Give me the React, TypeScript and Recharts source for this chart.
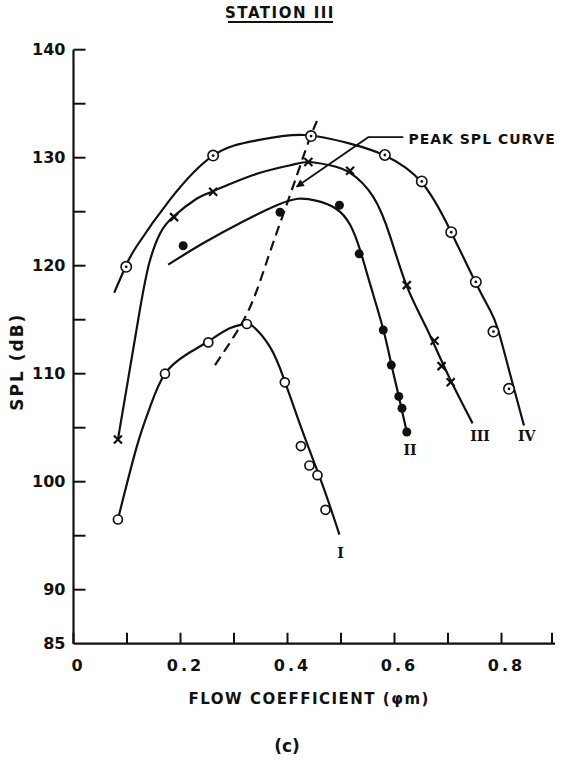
import React from 'react'
import { ComposedChart, Line, Scatter, XAxis, YAxis, ReferenceDot, Label } from 'recharts'

// axis ticks
const xTicks = [0, 0.1, 0.2, 0.3, 0.4, 0.5, 0.6, 0.7, 0.8, 0.9]
const xLabelled = [0, 0.2, 0.4, 0.6, 0.8]
const yTicks = [85, 90, 95, 100, 105, 110, 115, 120, 125, 130, 135, 140]
const yLabelled = [85, 90, 100, 110, 120, 130, 140]

// faired curves
const curveI = [
  { phi: 0.083, spl: 96.5 }, { phi: 0.118, spl: 103.2 }, { phi: 0.143, spl: 106.9 },
  { phi: 0.171, spl: 110.0 }, { phi: 0.212, spl: 111.8 }, { phi: 0.252, spl: 113.0 },
  { phi: 0.292, spl: 114.2 }, { phi: 0.32, spl: 114.6 }, { phi: 0.335, spl: 114.4 },
  { phi: 0.367, spl: 112.5 }, { phi: 0.395, spl: 109.3 }, { phi: 0.43, spl: 104.4 },
  { phi: 0.467, spl: 99.5 }, { phi: 0.497, spl: 95.1 },
]
const curveII = [
  { phi: 0.177, spl: 120.1 }, { phi: 0.243, spl: 122.1 }, { phi: 0.317, spl: 124.1 },
  { phi: 0.38, spl: 125.6 }, { phi: 0.42, spl: 126.2 }, { phi: 0.455, spl: 126.0 },
  { phi: 0.49, spl: 125.3 }, { phi: 0.517, spl: 123.8 }, { phi: 0.536, spl: 121.4 },
  { phi: 0.555, spl: 118.2 }, { phi: 0.579, spl: 114.1 }, { phi: 0.594, spl: 110.9 },
  { phi: 0.608, spl: 107.9 }, { phi: 0.623, spl: 104.6 },
]
const curveIII = [
  { phi: 0.083, spl: 103.9 }, { phi: 0.124, spl: 115.9 }, { phi: 0.143, spl: 120.5 },
  { phi: 0.162, spl: 123.0 }, { phi: 0.188, spl: 124.6 }, { phi: 0.23, spl: 126.2 },
  { phi: 0.261, spl: 126.9 }, { phi: 0.336, spl: 128.4 }, { phi: 0.405, spl: 129.3 },
  { phi: 0.44, spl: 129.6 }, { phi: 0.479, spl: 129.3 }, { phi: 0.517, spl: 128.6 },
  { phi: 0.56, spl: 126.4 }, { phi: 0.592, spl: 122.7 }, { phi: 0.623, spl: 118.1 },
  { phi: 0.66, spl: 114.2 }, { phi: 0.7, spl: 109.9 }, { phi: 0.746, spl: 105.4 },
]
const curveIV = [
  { phi: 0.076, spl: 117.5 }, { phi: 0.098, spl: 120.0 }, { phi: 0.118, spl: 121.8 },
  { phi: 0.18, spl: 126.1 }, { phi: 0.261, spl: 130.2 }, { phi: 0.342, spl: 131.6 },
  { phi: 0.43, spl: 132.1 }, { phi: 0.517, spl: 131.3 }, { phi: 0.582, spl: 130.2 },
  { phi: 0.651, spl: 127.7 }, { phi: 0.706, spl: 123.1 }, { phi: 0.752, spl: 118.4 },
  { phi: 0.7785, spl: 115.9 }, { phi: 0.794, spl: 114.0 }, { phi: 0.818, spl: 109.6 },
  { phi: 0.842, spl: 105.2 },
]
const peakCurve = [
  { phi: 0.2645, spl: 110.8 }, { phi: 0.3037, spl: 113.75 }, { phi: 0.3355, spl: 116.8 },
  { phi: 0.3654, spl: 121.0 }, { phi: 0.3916, spl: 124.7 }, { phi: 0.4178, spl: 128.4 },
  { phi: 0.4402, spl: 131.6 }, { phi: 0.4551, spl: 133.4 },
]
const leader = [
  { phi: 0.6165, spl: 131.9 }, { phi: 0.551, spl: 131.9 }, { phi: 0.417, spl: 127.3 },
]

// measured points
const pointsI = [
  { phi: 0.083, spl: 96.5 }, { phi: 0.171, spl: 110.0 }, { phi: 0.252, spl: 112.9 },
  { phi: 0.324, spl: 114.6 }, { phi: 0.395, spl: 109.2 }, { phi: 0.425, spl: 103.3 },
  { phi: 0.441, spl: 101.5 }, { phi: 0.456, spl: 100.6 }, { phi: 0.471, spl: 97.4 },
]
const pointsII = [
  { phi: 0.205, spl: 121.85 }, { phi: 0.386, spl: 124.95 }, { phi: 0.497, spl: 125.6 },
  { phi: 0.534, spl: 121.1 }, { phi: 0.579, spl: 114.05 }, { phi: 0.594, spl: 110.8 },
  { phi: 0.608, spl: 107.9 }, { phi: 0.614, spl: 106.8 }, { phi: 0.623, spl: 104.6 },
]
const pointsIII = [
  { phi: 0.083, spl: 103.9 }, { phi: 0.188, spl: 124.5 }, { phi: 0.261, spl: 126.85 },
  { phi: 0.439, spl: 129.6 }, { phi: 0.517, spl: 128.8 }, { phi: 0.623, spl: 118.2 },
  { phi: 0.675, spl: 113.05 }, { phi: 0.688, spl: 110.7 }, { phi: 0.705, spl: 109.2 },
]
const pointsIV = [
  { phi: 0.0985, spl: 119.9 }, { phi: 0.261, spl: 130.2 }, { phi: 0.444, spl: 132.0 },
  { phi: 0.582, spl: 130.25 }, { phi: 0.651, spl: 127.8 }, { phi: 0.706, spl: 123.1 },
  { phi: 0.752, spl: 118.5 }, { phi: 0.785, spl: 113.9 }, { phi: 0.814, spl: 108.6 },
]

// curve names
const curveNames = [
  { text: 'I', phi: 0.499, spl: 93.4 },
  { text: 'II', phi: 0.629, spl: 102.9 },
  { text: 'III', phi: 0.76, spl: 104.2 },
  { text: 'IV', phi: 0.847, spl: 104.2 },
]

const INK = '#111'
const FONT = "'DejaVu Sans', sans-serif"

const XTick = (props: any) => {
  const { x, y, payload } = props
  const show = xLabelled.includes(payload.value)
  return (
    <g>
      <line x1={x} x2={x} y1={y - 22} y2={y - 33} stroke={INK} strokeWidth={2} />
      {show && (
        <text x={x + 5} y={y} textAnchor="middle" dominantBaseline="central" fill={INK}
          fontFamily={FONT} fontWeight="bold" fontSize={16} letterSpacing={3}>
          {String(payload.value)}
        </text>
      )}
    </g>
  )
}

const YTick = (props: any) => {
  const { x, y, payload } = props
  const show = yLabelled.includes(payload.value)
  return (
    <g>
      {payload.value !== 85 && (
        <line x1={x + 8} x2={x + 20} y1={y} y2={y} stroke={INK} strokeWidth={2} />
      )}
      {show && (
        <text x={x} y={y} textAnchor="end" dominantBaseline="central" fill={INK}
          fontFamily={FONT} fontWeight="bold" fontSize={16}>
          {payload.value}
        </text>
      )}
    </g>
  )
}

const openCircle = (p: any) => (
  <circle cx={p.cx} cy={p.cy} r={4.5} fill="#fff" stroke={INK} strokeWidth={1.7} />
)
const filledCircle = (p: any) => <circle cx={p.cx} cy={p.cy} r={4.5} fill={INK} />
const dotCircle = (p: any) => (
  <g>
    <circle cx={p.cx} cy={p.cy} r={5.2} fill="#fff" stroke={INK} strokeWidth={1.6} />
    <circle cx={p.cx} cy={p.cy} r={1.4} fill={INK} />
  </g>
)
const crossMark = (p: any) => (
  <g stroke={INK} strokeWidth={2.2}>
    <line x1={p.cx - 4} y1={p.cy - 4} x2={p.cx + 4} y2={p.cy + 4} />
    <line x1={p.cx - 4} y1={p.cy + 4} x2={p.cx + 4} y2={p.cy - 4} />
  </g>
)

export default function App() {
  return (
    <div style={{ position: 'absolute', left: 0, top: 0, width: 562, height: 762, background: '#fff' }}>
      <svg width={0} height={0} style={{ position: 'absolute' }}>
        <defs>
          <marker id="arrowHead" viewBox="0 0 10 10" refX={9} refY={5} markerWidth={11}
            markerHeight={8} markerUnits="userSpaceOnUse" orient="auto">
            <path d="M0,0 L10,5 L0,10 z" fill={INK} />
          </marker>
        </defs>
      </svg>
      <ComposedChart width={562} height={762} margin={{ top: 49.7, right: 7, bottom: 88.3, left: 33.5 }}>
        <XAxis type="number" dataKey="phi" domain={[0, 0.9]} ticks={xTicks} allowDataOverflow
          height={30} tickSize={0} tickMargin={22} tickLine={false} tick={<XTick />}
          axisLine={{ stroke: INK, strokeWidth: 2.2 }}>
          <Label content={(p: any) => (
            <text x={p.viewBox.x + p.viewBox.width / 2 - 5} y={p.viewBox.y + 55} textAnchor="middle"
              dominantBaseline="central" fill={INK} fontFamily={FONT} fontWeight="bold"
              fontSize={15} letterSpacing={1.5}>
              FLOW COEFFICIENT (φm)
            </text>
          )} />
        </XAxis>
        <YAxis type="number" dataKey="spl" domain={[85, 140]} ticks={yTicks} allowDataOverflow
          width={40} tickSize={0} tickMargin={8} tickLine={false} tick={<YTick />}
          axisLine={{ stroke: INK, strokeWidth: 2.2 }}>
          <Label content={(p: any) => {
            const cx = p.viewBox.x - 16
            const cy = p.viewBox.y + p.viewBox.height / 2 + 15
            return (
              <text x={cx} y={cy} transform={`rotate(-90, ${cx}, ${cy})`} textAnchor="middle"
                dominantBaseline="central" fill={INK} fontFamily={FONT} fontWeight="bold"
                fontSize={17} letterSpacing={2}>
                SPL (dB)
              </text>
            )
          }} />
        </YAxis>

        <Line data={curveI} dataKey="spl" type="natural" stroke={INK} strokeWidth={2.2} dot={false} isAnimationActive={false} />
        <Line data={curveII} dataKey="spl" type="natural" stroke={INK} strokeWidth={2.2} dot={false} isAnimationActive={false} />
        <Line data={curveIII} dataKey="spl" type="natural" stroke={INK} strokeWidth={2.2} dot={false} isAnimationActive={false} />
        <Line data={curveIV} dataKey="spl" type="natural" stroke={INK} strokeWidth={2.2} dot={false} isAnimationActive={false} />
        <Line data={peakCurve} dataKey="spl" type="natural" stroke={INK} strokeWidth={2.2}
          strokeDasharray="10 6" dot={false} isAnimationActive={false} />
        <Line data={leader} dataKey="spl" type="linear" stroke={INK} strokeWidth={1.8}
          dot={false} markerEnd="url(#arrowHead)" isAnimationActive={false} />

        <Scatter data={pointsI} dataKey="spl" shape={openCircle} isAnimationActive={false} />
        <Scatter data={pointsII} dataKey="spl" shape={filledCircle} isAnimationActive={false} />
        <Scatter data={pointsIII} dataKey="spl" shape={crossMark} isAnimationActive={false} />
        <Scatter data={pointsIV} dataKey="spl" shape={dotCircle} isAnimationActive={false} />

        {curveNames.map((c) => (
          <ReferenceDot key={c.text} x={c.phi} y={c.spl} r={0}
            shape={(p: any) => (
              <text x={p.cx} y={p.cy} textAnchor="middle" dominantBaseline="central" fill={INK}
                fontFamily="'DejaVu Serif', serif" fontWeight="bold" fontSize={14}>
                {c.text}
              </text>
            )} />
        ))}
        <ReferenceDot x={0.626} y={131.7} r={0}
          shape={(p: any) => (
            <text x={p.cx} y={p.cy} textAnchor="start" dominantBaseline="central" fill={INK}
              fontFamily={FONT} fontWeight="bold" fontSize={14} letterSpacing={1}>
              PEAK SPL CURVE
            </text>
          )} />
      </ComposedChart>
      <svg width={562} height={762} style={{ position: 'absolute', left: 0, top: 0, pointerEvents: 'none' }}>
        <text x={280} y={13} textAnchor="middle" dominantBaseline="central" fill={INK}
          fontFamily={FONT} fontWeight="bold" fontSize={15} letterSpacing={1.5}>
          STATION III
        </text>
        <line x1={228} x2={333} y1={22} y2={22} stroke={INK} strokeWidth={2} />
        <text x={287} y={746} textAnchor="middle" dominantBaseline="central" fill={INK}
          fontFamily={FONT} fontWeight="bold" fontSize={17}>
          (c)
        </text>
      </svg>
    </div>
  )
}
